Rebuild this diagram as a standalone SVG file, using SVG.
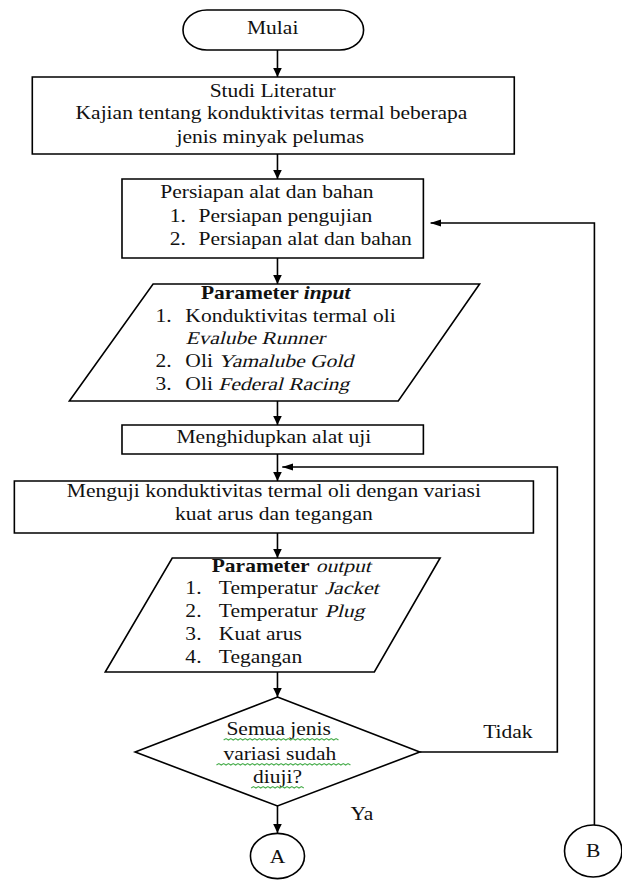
<svg xmlns="http://www.w3.org/2000/svg" width="622" height="883" viewBox="0 0 622 883">
  <defs>
    <marker id="arr" viewBox="0 0 10 10" refX="10" refY="5" markerWidth="9" markerHeight="9" orient="auto" markerUnits="userSpaceOnUse">
      <path d="M0,1 L10,5 L0,9 z" fill="#000"/>
    </marker>
  </defs>
  <style>
    .shape { fill: #fff; stroke: #000; stroke-width: 1.6; vector-effect: non-scaling-stroke; }
    .line { fill: none; stroke: #000; stroke-width: 1.6; vector-effect: non-scaling-stroke; }
    .arrow { marker-end: url(#arr); }
    text { font-family: "Liberation Serif", serif; font-size: 18px; fill: #111; }
    .c { text-anchor: middle; }
    .b { font-weight: bold; }
    .bi { font-weight: bold; font-style: italic; }
    .spell { fill: none; stroke: #4caf50; stroke-width: 1; }
  </style>
  <rect width="622" height="883" fill="#fff"/>
  <!-- the whole chart is laid out in a narrower frame and stretched sideways;
       slanted words use a skew on the upright serif face -->
  <g transform="scale(1.196 1)">
    <g id="connectors">
      <path class="line arrow" d="M232,50 V77"/>
      <path class="line arrow" d="M232,154 V179"/>
      <path class="line arrow" d="M232,258 V284"/>
      <path class="line arrow" d="M232,401 V425"/>
      <path class="line arrow" d="M232,454 V481"/>
      <path class="line arrow" d="M232,533 V558"/>
      <path class="line arrow" d="M232,672 V697"/>
      <path class="line arrow" d="M232,806 V833"/>
      <!-- "Tidak" branch back to the test step -->
      <path class="line arrow" d="M351,752 H466 V467 H236"/>
      <!-- connector B back to preparation -->
      <path class="line arrow" d="M497,825 V223 H360"/>
      <text x="404" y="738">Tidak</text>
      <text x="293" y="820">Ya</text>
    </g>

    <g id="mulai">
      <rect class="shape" x="153" y="10" width="151" height="40" rx="20" ry="20"/>
      <text class="c" x="228" y="34">Mulai</text>
    </g>

    <g id="studi-literatur">
      <rect class="shape" x="27" y="77" width="403" height="77"/>
      <text class="c" x="228" y="97">Studi Literatur</text>
      <text class="c" x="227" y="119">Kajian tentang konduktivitas termal beberapa</text>
      <text class="c" x="226" y="143">jenis minyak pelumas</text>
    </g>

    <g id="persiapan">
      <rect class="shape" x="102" y="179" width="252" height="79"/>
      <text x="134" y="198">Persiapan alat dan bahan</text>
      <text x="142" y="222">1.</text>
      <text x="166" y="222">Persiapan pengujian</text>
      <text x="142" y="245">2.</text>
      <text x="166" y="245">Persiapan alat dan bahan</text>
    </g>

    <g id="parameter-input">
      <polygon class="shape" points="128,284 401,284 333,401 58,401"/>
      <text x="168" y="299"><tspan class="b">Parameter </tspan><tspan class="bi">input</tspan></text>
      <text x="130" y="322">1.</text>
      <text x="155" y="322">Konduktivitas termal oli</text>
      <text transform="translate(155,344) skewX(-13)">Evalube Runner</text>
      <text x="130" y="367">2.</text>
      <text x="155" y="367">Oli</text>
      <text transform="translate(182.5,367) skewX(-13)">Yamalube Gold</text>
      <text x="130" y="390">3.</text>
      <text x="155" y="390">Oli</text>
      <text transform="translate(182.5,390) skewX(-13)">Federal Racing</text>
    </g>

    <g id="menghidupkan">
      <rect class="shape" x="102" y="425" width="252" height="29"/>
      <text class="c" x="229" y="443">Menghidupkan alat uji</text>
    </g>

    <g id="menguji">
      <rect class="shape" x="12" y="481" width="434" height="52"/>
      <text class="c" x="229" y="497">Menguji konduktivitas termal oli dengan variasi</text>
      <text class="c" x="229" y="520">kuat arus dan tegangan</text>
    </g>

    <g id="parameter-output">
      <polygon class="shape" points="144,558 368,558 313,672 88,672"/>
      <text class="b" x="177" y="572">Parameter</text>
      <text transform="translate(264,572) skewX(-13)">output</text>
      <text x="155" y="594">1.</text>
      <text x="183" y="594">Temperatur</text>
      <text transform="translate(271.5,594) skewX(-13)">Jacket</text>
      <text x="155" y="617">2.</text>
      <text x="183" y="617">Temperatur</text>
      <text transform="translate(271.5,617) skewX(-13)">Plug</text>
      <text x="155" y="640">3.</text>
      <text x="183" y="640">Kuat arus</text>
      <text x="155" y="663">4.</text>
      <text x="183" y="663">Tegangan</text>
    </g>

    <g id="keputusan">
      <polygon class="shape" points="232,697 351,752 232,806 113,752"/>
      <text class="c" x="233" y="735">Semua jenis</text>
      <text class="c" x="234" y="760">variasi sudah</text>
      <text class="c" x="232" y="783">diuji?</text>
      <path class="spell" d="M187,740 l2,-1.5 l2,1.5 l2,-1.5 l2,1.5 l2,-1.5 l2,1.5 l2,-1.5 l2,1.5 l2,-1.5 l2,1.5 l2,-1.5 l2,1.5 l2,-1.5 l2,1.5 l2,-1.5 l2,1.5 l2,-1.5 l2,1.5 l2,-1.5 l2,1.5 l2,-1.5 l2,1.5 l2,-1.5 l2,1.5 l2,-1.5 l2,1.5 l2,-1.5 l2,1.5 l2,-1.5 l2,1.5 l2,-1.5 l2,1.5 l2,-1.5 l2,1.5 l2,-1.5 l2,1.5 l2,-1.5 l2,1.5 l2,-1.5 l2,1.5 l2,-1.5 l2,1.5 l2,-1.5 l2,1.5 l2,-1.5 l2,1.5 l2,-1.5 l2,1.5"/>
      <path class="spell" d="M181,765 l2,-1.5 l2,1.5 l2,-1.5 l2,1.5 l2,-1.5 l2,1.5 l2,-1.5 l2,1.5 l2,-1.5 l2,1.5 l2,-1.5 l2,1.5 l2,-1.5 l2,1.5 l2,-1.5 l2,1.5 l2,-1.5 l2,1.5 l2,-1.5 l2,1.5 l2,-1.5 l2,1.5 l2,-1.5 l2,1.5 l2,-1.5 l2,1.5 l2,-1.5 l2,1.5 l2,-1.5 l2,1.5 l2,-1.5 l2,1.5 l2,-1.5 l2,1.5 l2,-1.5 l2,1.5 l2,-1.5 l2,1.5 l2,-1.5 l2,1.5 l2,-1.5 l2,1.5 l2,-1.5 l2,1.5 l2,-1.5 l2,1.5 l2,-1.5 l2,1.5 l2,-1.5 l2,1.5 l2,-1.5 l2,1.5 l2,-1.5 l2,1.5 l2,-1.5 l2,1.5"/>
      <path class="spell" d="M210,788 l2,-1.5 l2,1.5 l2,-1.5 l2,1.5 l2,-1.5 l2,1.5 l2,-1.5 l2,1.5 l2,-1.5 l2,1.5 l2,-1.5 l2,1.5 l2,-1.5 l2,1.5 l2,-1.5 l2,1.5 l2,-1.5 l2,1.5 l2,-1.5 l2,1.5 l2,-1.5 l2,1.5"/>
    </g>

    <g id="konektor-a">
      <circle class="shape" cx="232" cy="856" r="22.6"/>
      <text class="c" x="232" y="863">A</text>
    </g>

    <g id="konektor-b">
      <ellipse class="shape" cx="496" cy="851" rx="24" ry="26"/>
      <text class="c" x="496" y="857">B</text>
    </g>
  </g>
</svg>
